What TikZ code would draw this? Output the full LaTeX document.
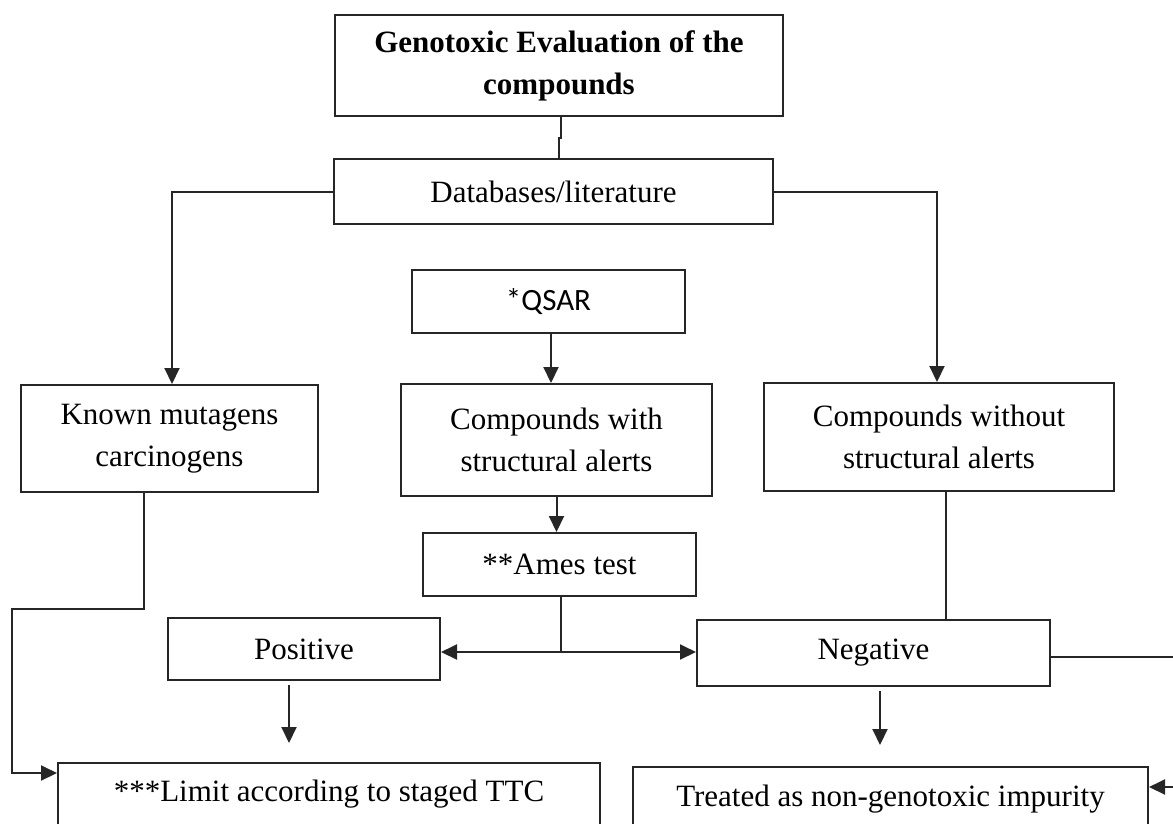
\documentclass[tikz,border=0pt]{standalone}
\usepackage{fontspec}
\setmainfont{Liberation Serif}
\newfontfamily\qsarfont{Carlito}
\usetikzlibrary{arrows.meta,calc}
\tikzset{
  box/.style={draw=black!85, line width=2pt, inner sep=0pt, align=center,
    font=\fontsize{31}{42}\selectfont, text=black},
  conn/.style={draw=black!85, line width=2pt},
  arr/.style={conn, -{Triangle[length=16pt,width=15pt]}},
}
\begin{document}
\begin{tikzpicture}[x=1pt,y=-1pt]
\useasboundingbox (0,0) rectangle (1173,823);
\node[box, minimum width=448, minimum height=101, font=\fontsize{31}{42}\selectfont\bfseries] (gen) at (559,65.5) {Genotoxic Evaluation of the\\compounds};
\node[box, minimum width=439, minimum height=65] (db) at (553.5,191.5) {Databases/literature};
\node[box, minimum width=273, minimum height=63, font=\fontsize{31}{42}\qsarfont] (qsar) at (548.5,301.5) {*QSAR};
\node[box, minimum width=297, minimum height=107] (known) at (169.5,438.5) {Known mutagens\\carcinogens};
\node[box, minimum width=311, minimum height=112] (cwith) at (556.5,440) {Compounds with\\structural alerts};
\node[box, minimum width=350, minimum height=108] (cwo) at (939,437) {Compounds without\\structural alerts};
\node[box, minimum width=273, minimum height=63] (ames) at (559.5,564.5) {**Ames test};
\node[box, minimum width=272, minimum height=62] (pos) at (304,649) {Positive};
\node[box, minimum width=353, minimum height=66] (neg) at (873.5,653) {Negative};
\node[box, anchor=north west, minimum width=542, text height=38pt, text depth=70pt] (limit) at (57,762) {***Limit according to staged TTC};
\node[box, anchor=north west, minimum width=515, text height=39pt, text depth=70pt] (treated) at (632,766) {Treated as non-genotoxic impurity};

\coordinate (split) at (561,652);
\coordinate (kl1) at (12,609);
\coordinate (kl2) at (12,773);
\coordinate (ptip) at (289,743);
\coordinate (ntip) at (880,745);
\coordinate (re1) at (1185,657);
\coordinate (re2) at (1185,787);

\draw[conn] ([xshift=2pt]gen.south) -- ++(0,21) -- ++(-2,0) -- (db.north -| gen.south);
\draw[arr] (db.west) -| ([xshift=2.5pt]known.north);
\draw[arr] (db.east) -| ([xshift=-2pt]cwo.north);
\draw[arr] ([xshift=2.5pt]qsar.south) -- ([xshift=2.5pt]qsar.south |- cwith.north);
\draw[arr] (cwith.south) -- (cwith.south |- ames.north);
\draw[conn] ([xshift=1.5pt]ames.south) -- (split);
\draw[arr] (split) -- (pos.east |- split);
\draw[arr] (split) -- (neg.west |- split);
\draw[conn] ([xshift=7pt]cwo.south) -- ([xshift=7pt]cwo.south |- neg.north);
\draw[arr] ([xshift=-25.5pt]known.south) |- (kl1) -- (kl2) -- (limit.west |- kl2);
\draw[arr] (pos.south -| ptip) ++(0,4) -- (ptip);
\draw[arr] (neg.south -| ntip) ++(0,4) -- (ntip);
\draw[arr] ([yshift=-4pt]neg.east) -- (re1) -- (re2) -- (treated.east |- re2);
\end{tikzpicture}
\end{document}
